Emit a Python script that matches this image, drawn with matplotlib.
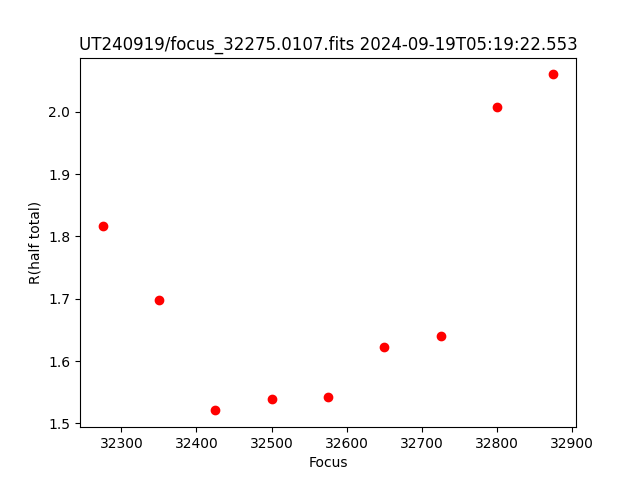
import matplotlib
matplotlib.use('Agg')
import matplotlib.pyplot as plt

focus = [32275, 32350, 32425, 32500, 32575, 32650, 32725, 32800, 32875]
r_half = [1.817, 1.698, 1.521, 1.539, 1.542, 1.623, 1.640, 2.008, 2.060]

plt.figure(figsize=(6.4, 4.8), dpi=100)
plt.plot(focus, r_half, 'ro')
plt.title('UT240919/focus_32275.0107.fits 2024-09-19T05:19:22.553')
plt.xlabel('Focus')
plt.ylabel('R(half total)')
plt.savefig('out.png')
